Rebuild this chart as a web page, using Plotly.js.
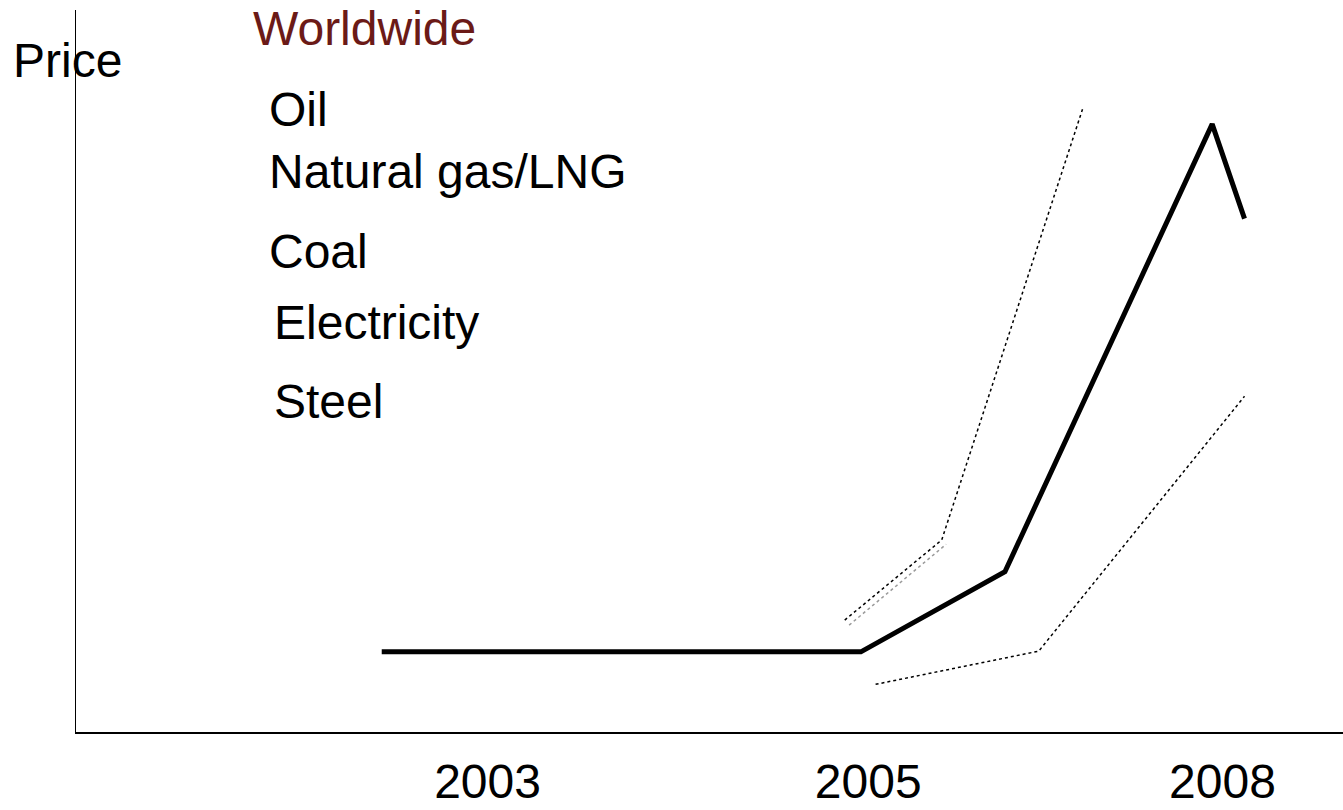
<!DOCTYPE html>
<html>
<head>
<meta charset="utf-8">
<script src="https://cdn.plot.ly/plotly-3.0.1.min.js"></script>
<style>html,body{margin:0;padding:0;background:#fff;}#chart{width:1343px;height:810px;}</style>
</head>
<body>
<div id="chart"></div>
<script>
// Data (x in schematic years, y in price-index units 0-100)
const mainX = [2002.28, 2005.54, 2006.52, 2007.93, 2008.15];
const mainY = [11.1, 11.1, 22.2, 84.2, 71.1];
const upperX = [2005.43, 2006.09, 2007.05];
const upperY = [15.5, 26.6, 86.4];
const greyX = [2005.46, 2006.12];
const greyY = [14.8, 26.0];
const lowerX = [2005.64, 2006.75, 2008.15];
const lowerY = [6.6, 11.2, 46.5];
const tickVals = [2003, 2005.59, 2008];
const tickText = ['2003', '2005', '2008'];
const labels = ['Oil', 'Natural gas/LNG', 'Coal', 'Electricity', 'Steel'];

const FONT = 'Liberation Sans, Arial, Helvetica, sans-serif';
const FS = 48;

const traces = [
  {x: upperX, y: upperY, mode: 'lines', line: {color: '#000', width: 1.5, dash: 'dot'}, name: 'upper'},
  {x: greyX, y: greyY, mode: 'lines', line: {color: '#9a9a9a', width: 1.5, dash: 'dot'}, name: 'grey'},
  {x: lowerX, y: lowerY, mode: 'lines', line: {color: '#000', width: 1.5, dash: 'dot'}, name: 'lower'},
  {x: mainX, y: mainY, mode: 'lines', line: {color: '#000', width: 5}, name: 'main'}
];

const labelY = [109, 172, 251.5, 322.5, 401];
const labelX = [268, 268, 268, 273, 273];
const annotations = labels.map((t, i) => ({
  text: t, xref: 'paper', yref: 'paper',
  x: (labelX[i] - 76) / 1267, y: (732 - labelY[i]) / 722,
  xanchor: 'left', yanchor: 'middle', showarrow: false, borderpad: 0,
  font: {family: FONT, size: FS, color: '#000'}
}));
annotations.push({
  text: 'Worldwide', xref: 'paper', yref: 'paper',
  x: (252 - 76) / 1267, y: (732 - 29) / 722,
  xanchor: 'left', yanchor: 'middle', showarrow: false, borderpad: 0,
  font: {family: FONT, size: FS, color: '#6b1a17'}
});
annotations.push({
  text: 'Price', xref: 'paper', yref: 'paper',
  x: (12 - 76) / 1267, y: (732 - 61) / 722,
  xanchor: 'left', yanchor: 'middle', showarrow: false, borderpad: 0,
  font: {family: FONT, size: FS, color: '#000'}
});

const layout = {
  width: 1343, height: 810,
  margin: {l: 76, r: 0, t: 10, b: 78, pad: 0},
  paper_bgcolor: '#fff', plot_bgcolor: '#fff',
  showlegend: false,
  xaxis: {
    range: [2000.2, 2008.82], showgrid: false, zeroline: false,
    showline: true, linecolor: '#000', linewidth: 1.5,
    tickmode: 'array', tickvals: tickVals, ticktext: tickText,
    ticks: '', ticklabelstandoff: 7,
    tickfont: {family: FONT, size: FS, color: '#000'}
  },
  yaxis: {
    range: [0, 100], showgrid: false, zeroline: false,
    showline: true, linecolor: '#000', linewidth: 1.5,
    showticklabels: false, ticks: ''
  },
  annotations: annotations
};

Plotly.newPlot('chart', traces, layout, {displayModeBar: false, staticPlot: true});
</script>
</body>
</html>
